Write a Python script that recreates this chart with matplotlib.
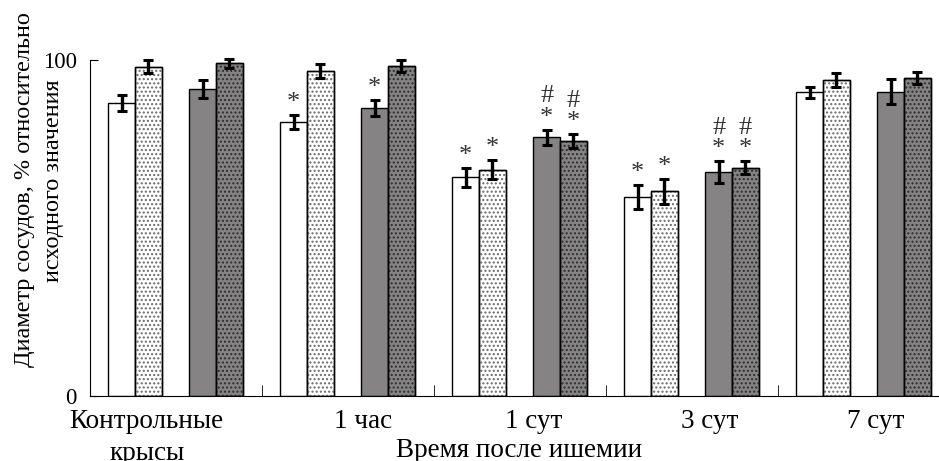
import numpy as np
import matplotlib
matplotlib.use("Agg")
import matplotlib.pyplot as plt

plt.rcParams["font.family"] = ["Liberation Serif", "DejaVu Serif"]

groups = ["Контрольные\nкрысы", "1 час", "1 сут", "3 сут", "7 сут"]

# four series per group: white, white dotted, gray, gray dotted
white = [87.2, 81.5, 65.1, 59.3, 90.4]
white_err = [2.5, 2.0, 2.8, 3.5, 1.7]
white_dot = [98.0, 96.7, 67.4, 60.9, 94.0]
white_dot_err = [1.9, 2.0, 2.8, 3.7, 2.1]
gray = [91.3, 85.7, 77.0, 66.7, 90.6]
gray_err = [2.6, 2.5, 2.3, 3.3, 3.8]
gray_dot = [99.0, 98.2, 75.9, 68.0, 94.7]
gray_dot_err = [1.3, 1.8, 2.0, 1.8, 1.7]

# significance marks per bar (# sits above *)
white_marks = ["", "*", "*", "*", ""]
white_dot_marks = ["", "", "*", "*", ""]
gray_marks = ["", "*", "#\n*", "#\n*", ""]
gray_dot_marks = ["", "", "#\n*", "#\n*", ""]

series = [
    (white, white_err, white_marks, "white", None, None),
    (white_dot, white_dot_err, white_dot_marks, "white", "....", "#6a6a6a"),
    (gray, gray_err, gray_marks, "#858383", None, None),
    (gray_dot, gray_dot_err, gray_dot_marks, "#858383", "....", "#2e2e2e"),
]
offsets = [0.185, 0.34, 0.655, 0.81]
width = 0.155
label_pos = [0.33, 0.59, 0.58, 0.6, 0.57]

fig = plt.figure(figsize=(9.39, 4.61), dpi=100)
ax = fig.add_axes([90 / 939, 65 / 461, 849 / 939, 336 / 461])

x0 = np.arange(len(groups))
for (vals, errs, marks, face, hatch, hcol), off in zip(series, offsets):
    x = x0 + off
    ax.bar(x, vals, width, color=face, edgecolor="black", linewidth=1.0, zorder=2)
    if hatch:
        ax.bar(x, vals, width, color="none", edgecolor=hcol, hatch=hatch,
               linewidth=0, zorder=3)
        ax.bar(x, vals, width, color="none", edgecolor="black", linewidth=1.0, zorder=3)
    ax.errorbar(x, vals, yerr=errs, fmt="none", ecolor="black", elinewidth=2.4,
                capsize=3.6, capthick=2.2, zorder=4, clip_on=False)
    for xi, v, e, m in zip(x, vals, errs, marks):
        if m:
            ax.text(xi, v + e + 0.3, m, ha="center", va="bottom", fontsize=19,
                    color="#333333", linespacing=0.95)

ax.set_xlim(0, 849 / 172)
ax.set_ylim(0, 100)
ax.spines["top"].set_visible(False)
ax.spines["right"].set_visible(False)
ax.set_yticks([0, 100])
ax.tick_params(axis="y", direction="in", length=6, labelsize=16.5, pad=9.5)
ax.set_xticks(x0 + np.array(label_pos))
ax.set_xticklabels(groups, fontsize=19.5, linespacing=1.4)
ax.tick_params(axis="x", length=0, pad=9)
ax.set_xticks(x0[1:], minor=True)
ax.tick_params(axis="x", which="minor", direction="in", length=8)

fig.text(25 / 939, 1 - 190 / 461, "Диаметр сосудов, % относительно",
         rotation=90, ha="center", va="center", fontsize=17.5)
fig.text(54 / 939, 1 - 181 / 461, "исходного значения",
         rotation=90, ha="center", va="center", fontsize=17.5)
fig.text(519 / 939, 1 - 457 / 461, "Время после ишемии", ha="center", va="baseline",
         fontsize=19.5)

fig.savefig("out.png", dpi=100)
